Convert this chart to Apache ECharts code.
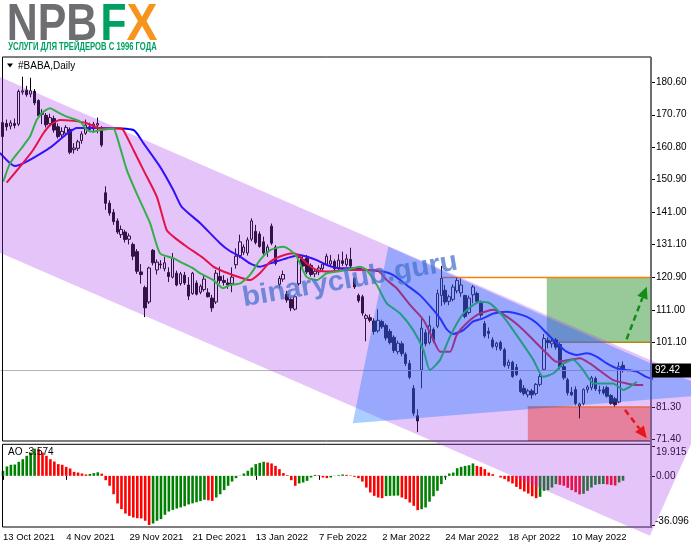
<!DOCTYPE html>
<html><head><meta charset="utf-8">
<script src="https://cdn.jsdelivr.net/npm/echarts@6/dist/echarts.min.js"></script>
<style>html,body{margin:0;padding:0;background:#fff;}#c{width:691px;height:549px;}</style>
</head><body><div id="c"></div>
<script>
// ---------------- DATA ----------------
const tickIndex = [0, 16, 32, 48, 64, 80, 96, 112, 128, 144];
const tickLabels = ['13 Oct 2021','4 Nov 2021','29 Nov 2021','21 Dec 2021','13 Jan 2022','7 Feb 2022','2 Mar 2022','24 Mar 2022','18 Apr 2022','10 May 2022'];

const open = [164.0,168.0,167.2,168.0,167.8,177.6,178.2,177.0,177.8,175.0,171.2,170.5,168.0,169.5,167.0,164.5,165.0,166.2,160.0,160.4,162.8,165.0,167.0,166.4,167.5,166.5,146.8,143.6,140.8,138.2,134.0,134.8,132.6,131.0,128.8,122.6,117.8,113.4,129.2,123.2,125.0,123.6,122.4,121.0,122.2,119.0,121.6,118.6,116.0,119.2,116.4,117.2,116.2,114.6,113.4,121.2,120.0,119.2,119.0,124.8,127.6,128.6,128.4,132.6,135.0,134.2,131.8,128.6,136.6,130.2,118.8,120.4,115.8,114.2,111.2,119.0,126.4,126.8,124.6,122.0,122.6,123.6,125.0,125.0,125.8,123.8,126.0,124.8,126.4,120.6,115.4,115.0,108.4,108.6,107.6,104.6,107.4,106.2,104.4,102.6,98.2,100.6,97.4,94.6,87.0,78.6,92.6,104.0,101.0,105.0,106.0,115.4,117.0,113.6,114.2,116.8,116.2,115.4,110.2,115.6,116.0,113.0,106.8,104.4,101.8,99.8,101.0,98.8,94.0,95.0,93.4,89.4,87.0,85.0,86.2,85.4,88.2,92.8,101.6,100.6,101.8,100.4,93.6,89.6,85.8,86.6,81.6,82.4,86.6,87.2,90.0,86.4,86.6,87.2,84.8,83.8,82.8,94.0];
const high = [168.8,169.2,169.0,169.5,178.4,182.3,179.5,182.0,178.5,175.4,172.4,171.2,171.0,170.4,168.0,166.8,167.5,166.8,162.0,163.0,165.6,169.2,168.2,168.5,169.8,167.2,148.8,144.5,141.8,139.0,136.8,135.5,134.4,131.6,129.6,125.0,118.4,124.2,129.6,126.4,126.2,127.2,124.0,128.4,123.0,122.6,122.6,121.0,122.6,120.0,118.8,121.4,117.6,115.6,123.2,124.2,121.6,120.6,124.0,129.8,134.0,131.0,133.2,139.0,137.0,135.0,133.4,131.0,137.4,130.8,121.4,123.0,116.8,114.8,115.6,128.2,127.6,127.8,125.2,123.2,124.6,125.6,128.2,127.8,126.4,128.0,128.8,128.0,130.0,121.0,116.0,115.6,109.8,109.6,108.4,111.2,108.0,106.8,105.2,103.2,101.6,101.4,98.0,95.6,88.0,80.6,108.4,105.0,109.2,105.6,117.2,124.4,118.6,115.6,118.8,120.8,120.6,115.6,115.4,118.6,116.6,113.8,107.6,105.6,102.6,101.2,101.6,99.4,95.8,95.4,94.4,90.0,88.0,86.8,86.8,88.6,91.4,103.6,102.6,102.2,102.4,101.0,94.4,90.2,87.4,87.6,82.6,87.0,88.0,90.8,90.6,87.8,87.6,87.8,85.2,84.4,95.0,95.2];
const low = [163.2,165.8,166.2,166.5,167.2,176.8,176.2,176.0,173.6,169.8,167.8,166.8,167.2,165.2,163.4,163.8,164.2,158.6,158.8,159.6,161.8,164.5,165.6,165.2,165.0,160.8,141.6,139.8,137.0,134.2,133.0,131.6,131.0,126.2,122.0,119.0,108.8,112.8,124.6,121.8,123.6,122.8,119.5,120.6,118.2,118.4,118.6,114.0,115.6,115.4,115.8,116.6,114.8,110.4,112.8,119.0,118.4,117.4,116.4,123.6,126.8,127.8,127.6,132.0,131.0,130.0,127.8,127.2,130.8,124.6,117.8,119.6,113.2,110.6,110.8,118.4,123.4,122.0,121.2,121.0,121.6,122.8,124.6,124.4,123.0,123.2,124.4,124.2,123.8,117.4,113.2,109.2,101.4,107.2,103.4,104.0,105.2,101.6,100.4,97.8,97.4,96.8,93.8,89.8,78.6,73.6,87.0,99.8,100.4,100.8,105.4,112.2,112.6,112.4,113.6,116.0,115.0,108.4,109.6,113.0,113.0,108.6,102.4,102.2,99.2,98.6,98.4,93.4,93.0,90.2,90.8,85.6,84.8,84.2,83.8,84.8,87.6,92.4,99.2,99.4,98.8,92.8,89.6,84.8,84.6,81.8,77.8,81.8,85.6,86.4,86.2,85.2,85.0,84.2,82.0,81.4,82.4,91.8];
const close = [168.3,167.0,168.2,167.4,177.8,178.0,176.8,178.0,174.3,170.4,170.8,167.6,169.8,166.0,164.0,165.6,166.8,159.2,160.5,162.4,164.8,167.5,166.2,167.8,168.0,161.4,143.6,140.6,138.0,134.8,135.6,132.5,133.6,127.4,122.8,121.8,111.6,123.8,125.4,125.6,124.8,125.4,121.2,126.8,118.6,122.0,119.2,115.2,122.2,115.8,118.2,120.4,115.0,111.6,122.2,120.0,119.4,118.6,121.0,127.4,131.8,130.2,132.4,138.2,131.6,130.4,128.4,130.2,131.4,125.2,120.6,121.8,114.0,111.6,115.0,127.0,124.4,122.6,121.8,122.8,123.8,125.0,127.4,126.0,123.6,126.2,125.2,126.6,124.4,118.0,113.8,110.0,109.2,107.8,104.4,107.8,105.8,102.4,101.0,98.6,100.8,97.6,94.6,90.4,79.4,77.0,105.4,100.6,106.2,101.6,116.0,120.6,113.4,115.0,118.0,120.0,118.6,109.0,114.6,118.0,113.6,109.4,103.0,103.8,99.8,100.8,99.0,94.0,95.0,90.6,91.2,86.0,85.4,86.2,85.0,88.2,90.6,102.2,101.0,101.4,99.6,93.6,90.2,85.6,85.0,82.4,82.2,86.6,87.4,90.2,86.8,86.2,85.6,84.6,82.4,82.0,93.6,92.42];

// Alligator lines, read as [bar index, price] vertices
const jaw = [[-0.7,159.0],[3.1,155.0],[12,160.6],[16.2,164.8],[18.8,166.6],[24.6,166.6],[33.1,166.0],[35.6,162.0],[39.8,154.8],[43.2,147.6],[45.3,142.5],[50,137.5],[55,131.4],[57.5,129.0],[60.1,127.3],[62.6,125.2],[65.1,124.2],[67.7,125.2],[71.9,126.8],[75.2,127.8],[76.9,127.3],[79.5,126.2],[82,124.7],[85.4,123.7],[88.7,123.7],[92.1,123.2],[96.3,122.7],[98.9,121.6],[102.2,118.6],[105.6,115.5],[109,111.0],[110.7,108.4],[112.4,105.0],[114,103.6],[116.6,104.8],[119,107.4],[121.6,108.4],[124.2,109.9],[127.6,110.4],[130.1,109.9],[132.6,108.9],[135.2,106.9],[137.7,103.8],[140.2,100.8],[142.7,98.2],[145.3,97.2],[147.8,97.7],[150.3,96.7],[152.9,94.6],[155.4,93.1],[157.9,92.6],[160.5,92.1],[163,90.4],[165,89.8]];
const teeth = [[1.0,149.9],[4.4,154.8],[7.7,159.9],[10.3,165.0],[12,167.5],[14.5,169.1],[17.9,168.8],[21.3,168.1],[24.6,166.5],[29.7,166.5],[30.5,166.0],[33.1,159.9],[35.6,153.8],[39,145.6],[41.5,135.4],[43.2,133.4],[46.6,130.3],[50.8,126.8],[53.3,124.2],[55,123.2],[58.4,121.6],[62.6,120.1],[65.1,122.2],[67.7,125.7],[70.2,127.3],[73.6,128.3],[75.2,127.3],[76.9,125.2],[79.5,123.2],[82.8,122.7],[86.2,123.2],[92.1,123.2],[94.7,123.2],[97.2,120.1],[99.7,117.6],[103.1,112.5],[106.5,107.9],[109,101.8],[110.7,98.2],[113.2,98.2],[114.9,103.3],[117.4,106.9],[120.8,109.9],[124.2,111.0],[127.6,108.9],[130.9,105.8],[134.3,101.8],[137.7,97.7],[140.2,95.1],[143.6,95.7],[146.1,96.2],[148.6,94.6],[150.9,92.6],[154.5,89.5],[157.9,88.5],[160.5,88.0],[162.1,88.0]];
const lips = [[0.15,150.2],[1.85,155.8],[4.4,159.9],[6.9,164.0],[8.6,169.1],[10.3,171.6],[12,172.7],[13.7,171.6],[16.2,170.1],[19.6,168.6],[21.3,166.0],[22.9,165.5],[24.6,166.0],[28,166.5],[28.9,164.0],[31.4,153.8],[33.9,146.6],[37.3,137.5],[39.8,128.3],[43.2,126.8],[44.9,125.7],[48.2,123.7],[49.9,122.2],[53.3,120.1],[55.8,117.6],[57.5,118.6],[60.1,119.1],[62.6,121.7],[65.1,126.2],[67.7,129.3],[71,130.3],[72.7,129.3],[74.4,127.3],[76.9,121.1],[79.5,120.1],[82,122.2],[84.5,122.7],[87.1,123.2],[90.4,124.2],[92.1,123.2],[94.7,118.6],[97.2,113.0],[100.6,109.9],[103.9,104.8],[106.5,98.7],[108.1,92.6],[110.7,95.7],[113.2,102.8],[116.6,109.9],[120.8,113.5],[123.3,113.0],[126.7,108.9],[130.9,101.8],[134.3,95.7],[136.8,90.5],[139.4,91.6],[141.9,94.6],[144.4,95.7],[146.9,92.6],[149.5,88.5],[152,88.5],[154.5,88.5],[157.1,86.5],[158.8,87.5],[160.5,89.0]];

const ao = [3.7,6.9,8.1,8.3,10.3,12.2,14.7,17.1,19.915,19.5,
17.1,14.7,12.2,10.5,8.6,8.1,6.6,5.4,2.9,2.4,
1.7,1.0,1.4,2.0,2.6,1.6,-3.2,-7.3,-13.5,-20.3,
-24.5,-27.7,-29.4,-30.6,-31.1,-31.3,-33.0,-36.096,-35.0,-33.0,
-31.8,-28.6,-26.2,-25.0,-24.0,-23.2,-22.3,-21.0,-20.2,-19.4,
-18.6,-17.6,-18.0,-18.4,-15.9,-13.5,-10.5,-7.3,-4.2,-1.7,
0.2,1.7,3.7,6.1,8.6,9.5,10.3,9.8,9.1,7.3,
4.9,2.0,0.5,-3.2,-7.3,-5.6,-4.9,-3.7,-1.2,0.7,
0.5,-1.2,-1.7,-1.2,-0.2,0.5,1.0,0.7,0.3,-0.7,
-1.7,-4.2,-8.6,-12.2,-14.7,-15.9,-16.4,-14.9,-14.7,-14.6,
-14.5,-15.9,-17.1,-19.6,-22.0,-25.2,-24.5,-23.2,-19.0,-15.0,
-11.0,-6.1,-1.2,1.7,2.4,5.6,6.6,7.3,7.8,9.1,
7.3,6.6,4.9,2.4,1.2,0.0,-1.2,-2.4,-4.2,-5.6,
-8.1,-9.8,-11.5,-13.0,-15.0,-16.4,-15.4,-11.0,-10.5,-8.6,
-6.1,-6.6,-7.3,-8.8,-10.5,-12.0,-13.6,-13.2,-11.0,-8.6,
-6.6,-6.1,-6.0,-6.3,-6.8,-7.1,-4.9,-3.574];

const priceTicks = [180.6,170.7,160.8,150.9,141.0,131.1,120.9,111.0,101.1,91.2,81.3,71.4];
const aoTicks = [19.915, 0, -36.096];
const aoTickLabels = ['19.915', '0.00', '-36.096'];
const lastPrice = 92.42;
const aoLast = -3.574;
const resistanceLevel = 120.9, targetLevel = 101.1, supportLevel = 81.3;
// annotation anchors in (bar index, price)
const channelPts = [[-3.2,183.55],[180.5,86.9],[163.8,41.9],[-3.2,129.8]];
const trianglePts = [[97.6,130.3],[88.6,76.3],[181.4,85.3]];
const greenZone = {from: 137.7, top: 120.9, bottom: 101.1};
const redZone = {from: 132.9, top: 81.3};
const resistanceFrom = 111.2;
const upArrow = [[157.9,102.0],[163.0,118.1]];
const downArrow = [[157.5,80.4],[163.0,71.7]];
const watermarkAt = [87.9, 120.1];

// ---------------- LAYOUT ----------------
const FONT = '"Liberation Sans", Arial, sans-serif';
const X_MIN = -0.506, X_MAX = 164.08;
const GL = 0.7, GR = 40;
const MAIN_TOP = 57, MAIN_BOT = 441;
const AO_TOP = 448.7, AO_BOT = 525;
const Y_MIN = 70.88, Y_MAX = 188.34;

const chart = echarts.init(document.getElementById('c'), null, {renderer: 'canvas', width: 691, height: 549});

const candleData = close.map((c, i) => [i, open[i], c, low[i], high[i]]);
const aoData = ao.map((v, i) => ({value: [i, v], itemStyle: {color: (i === 0 || v >= ao[i - 1]) ? '#008000' : '#ff0000'}}));

const lbl = {fontFamily: FONT, fontSize: 9.5, color: '#000'};

chart.setOption({
  animation: false,
  backgroundColor: '#ffffff',
  grid: [
    {left: GL, right: GR, top: MAIN_TOP, height: MAIN_BOT - MAIN_TOP},
    {left: GL, right: GR, top: AO_TOP, height: AO_BOT - AO_TOP}
  ],
  xAxis: [
    {gridIndex: 0, type: 'value', min: X_MIN, max: X_MAX, show: false},
    {gridIndex: 1, type: 'value', min: X_MIN, max: X_MAX, position: 'bottom', offset: 2,
      axisLine: {show: false}, splitLine: {show: false},
      axisTick: {show: true, length: 4, customValues: tickIndex, lineStyle: {color: '#000'}},
      axisLabel: Object.assign({customValues: tickIndex, align: 'left', margin: 5,
        formatter: v => tickLabels[tickIndex.indexOf(v)] || ''}, lbl)}
  ],
  yAxis: [
    {gridIndex: 0, type: 'value', position: 'right', min: Y_MIN, max: Y_MAX,
      axisLine: {show: false}, splitLine: {show: false}, axisTick: {show: false},
      axisLabel: {customValues: priceTicks, margin: 5, formatter: v => v.toFixed(2), fontFamily: FONT, fontSize: 10, color: '#000'}},
    {gridIndex: 1, type: 'value', position: 'right', min: aoTicks[2], max: aoTicks[0],
      axisLine: {show: false}, splitLine: {show: false}, axisTick: {show: false}, axisLabel: {show: false}}
  ],
  series: [
    {type: 'candlestick', xAxisIndex: 0, yAxisIndex: 0, data: candleData,
      encode: {x: 0, y: [1, 2, 3, 4]}, barWidth: 3, z: 3,
      itemStyle: {color: '#ffffff', color0: '#000000', borderColor: '#000000', borderColor0: '#000000', borderWidth: 1},
      markLine: {silent: true, symbol: ['none', 'none'], label: {show: false},
        lineStyle: {color: '#b4b4b4', width: 1, type: 'solid'}, data: [{yAxis: lastPrice}]}},
    {type: 'line', name: 'jaw', xAxisIndex: 0, yAxisIndex: 0, data: jaw, showSymbol: false, smooth: 0.2,
      lineStyle: {color: '#0000ff', width: 2}, z: 4},
    {type: 'line', name: 'teeth', xAxisIndex: 0, yAxisIndex: 0, data: teeth, showSymbol: false, smooth: 0.2,
      lineStyle: {color: '#ff0000', width: 2}, z: 5},
    {type: 'line', name: 'lips', xAxisIndex: 0, yAxisIndex: 0, data: lips, showSymbol: false, smooth: 0.2,
      lineStyle: {color: '#00e000', width: 2}, z: 6},
    {type: 'bar', xAxisIndex: 1, yAxisIndex: 1, data: aoData, barWidth: 2.6}
  ]
});

// ---------------- ANNOTATIONS ----------------
const P = (p) => chart.convertToPixel({xAxisIndex: 0, yAxisIndex: 0}, p);
const PA = (v) => chart.convertToPixel({xAxisIndex: 1, yAxisIndex: 1}, [0, v])[1];
const gR = 691 - GR;
const mctx = document.createElement('canvas').getContext('2d');
function tw(t, font) { mctx.font = font; return mctx.measureText(t).width; }
function fitText(t, font, x, yMid, w, fill, z) {
  const s = w / tw(t, font);
  return {type: 'text', x: x, y: yMid, scaleX: s, z: z || 120,
    style: {text: t, font: font, fill: fill, textVerticalAlign: 'middle', textAlign: 'left'}};
}
function arrow(a, b, color) {
  const p0 = P(a), p1 = P(b);
  const dx = p1[0] - p0[0], dy = p1[1] - p0[1], L = Math.hypot(dx, dy);
  const ux = dx / L, uy = dy / L, hl = 12, hw = 5.5;
  const base = [p1[0] - ux * hl, p1[1] - uy * hl];
  return [
    {type: 'line', z: 130, shape: {x1: p0[0], y1: p0[1], x2: base[0], y2: base[1]},
      style: {stroke: color, lineWidth: 2.5, lineDash: [6, 4]}},
    {type: 'polygon', z: 130, shape: {points: [p1, [base[0] - uy * hw, base[1] + ux * hw], [base[0] + uy * hw, base[1] - ux * hw]]},
      style: {fill: color}}
  ];
}

const gzA = P([greenZone.from, greenZone.top]), gzB = P([greenZone.from, greenZone.bottom]);
const rzA = P([redZone.from, redZone.top]), rzB = P([redZone.from, Y_MIN]);
const resA = P([resistanceFrom, resistanceLevel]);
const lp = P([0, lastPrice]);
const wm = P(watermarkAt);

const g = [];
g.push({type: 'rect', z: 1, shape: {x: gzA[0], y: gzA[1], width: gR - gzA[0], height: gzB[1] - gzA[1]}, style: {fill: '#98c998'}});
g.push({type: 'rect', z: 1, shape: {x: rzA[0], y: rzA[1], width: gR - rzA[0], height: rzB[1] - rzA[1]}, style: {fill: '#ffa07a'}});
g.push({type: 'line', z: 1, shape: {x1: resA[0], y1: resA[1], x2: gR, y2: resA[1]}, style: {stroke: '#ff8000', lineWidth: 1.5}});
g.push({type: 'line', z: 1, shape: {x1: gzB[0], y1: gzB[1], x2: gR, y2: gzB[1]}, style: {stroke: '#b8860b', lineWidth: 1.5}});
g.push({type: 'line', z: 1, shape: {x1: rzA[0], y1: rzA[1], x2: gR, y2: rzA[1]}, style: {stroke: '#ff8000', lineWidth: 1.5}});
// frames
g.push({type: 'rect', z: 20, shape: {x: 2.5, y: MAIN_TOP, width: gR - 2.5, height: MAIN_BOT - MAIN_TOP}, style: {fill: null, stroke: '#000', lineWidth: 1}});
g.push({type: 'rect', z: 20, shape: {x: 2.5, y: 444.3, width: gR - 2.5, height: 527 - 444.3}, style: {fill: null, stroke: '#000', lineWidth: 1}});
g.push({type: 'line', z: 21, shape: {x1: gR, y1: MAIN_TOP, x2: gR, y2: 528}, style: {stroke: '#6e6e6e', lineWidth: 2}});
// price axis ticks
priceTicks.forEach(v => { const y = Math.round(P([0, v])[1]) + 0.5;
  g.push({type: 'line', z: 21, shape: {x1: gR + 1, y1: y, x2: gR + 4, y2: y}, style: {stroke: '#000', lineWidth: 1}}); });
// AO axis ticks + labels
aoTicks.forEach((v, k) => {
  const y = PA(v);
  const yy = Math.round(k === 1 ? y : (k === 0 ? y - 3 : y)) + 0.5;
  g.push({type: 'line', z: 21, shape: {x1: gR + 1, y1: yy, x2: gR + 4, y2: yy}, style: {stroke: '#000', lineWidth: 1}});
  const ly = k === 0 ? y + 3.5 : (k === 2 ? y - 4 : y);
  g.push({type: 'text', z: 21, x: gR + (k === 2 ? 4 : 5), y: ly, style: {text: aoTickLabels[k], font: '10px ' + FONT, fill: '#000', textVerticalAlign: 'middle'}});
});
// overlays (on top)
g.push({type: 'polygon', z: 100, shape: {points: channelPts.map(P)}, style: {fill: 'rgba(170,60,240,0.30)'}});
g.push({type: 'polygon', z: 101, shape: {points: trianglePts.map(P)}, style: {fill: 'rgba(12,114,255,0.35)'}});
{
  const f = 'bold 28px ' + FONT, t = 'binaryclub.guru';
  const s = 218 / tw(t, f);
  g.push({type: 'text', x: wm[0], y: wm[1], rotation: 0.17, scaleX: s, z: 110,
    style: {text: t, font: f, fill: 'rgba(70,115,205,0.75)', textAlign: 'center', textVerticalAlign: 'middle'}});
}
arrow(upArrow[0], upArrow[1], '#158c15').forEach(e => g.push(e));
arrow(downArrow[0], downArrow[1], '#e8141e').forEach(e => g.push(e));
// last price box
g.push({type: 'rect', z: 140, shape: {x: gR + 1, y: lp[1] - 7, width: 39, height: 14}, style: {fill: '#000'}});
g.push({type: 'text', z: 141, x: gR + 4, y: lp[1], style: {text: lastPrice.toFixed(2), font: '10px ' + FONT, fill: '#fff', textVerticalAlign: 'middle'}});
// titles
g.push({type: 'polygon', z: 30, shape: {points: [[7, 63.5], [13, 63.5], [10, 67.5]]}, style: {fill: '#000'}});
g.push({type: 'text', z: 30, x: 18, y: 66, style: {text: '#BABA,Daily', font: '10px ' + FONT, fill: '#000', textVerticalAlign: 'middle'}});
g.push({type: 'text', z: 30, x: 8, y: 452, style: {text: 'AO ' + aoLast.toFixed(3), font: '10px ' + FONT, fill: '#000', textVerticalAlign: 'middle'}});
// logo
const LF = 'bold 51px ' + FONT;
g.push(fitText('NPB', LF, 6.7, 26, 90.5, '#6d6e71'));
g.push(fitText('F', LF, 100.5, 26, 26, '#00a060'));
g.push(fitText('X', LF, 126.5, 26, 31, '#f7941d'));
g.push(fitText('УСЛУГИ ДЛЯ ТРЕЙДЕРОВ С 1996 ГОДА', 'bold 11px ' + FONT, 8.3, 47, 148.4, '#00a060'));

chart.setOption({graphic: g});
</script>
</body></html>
